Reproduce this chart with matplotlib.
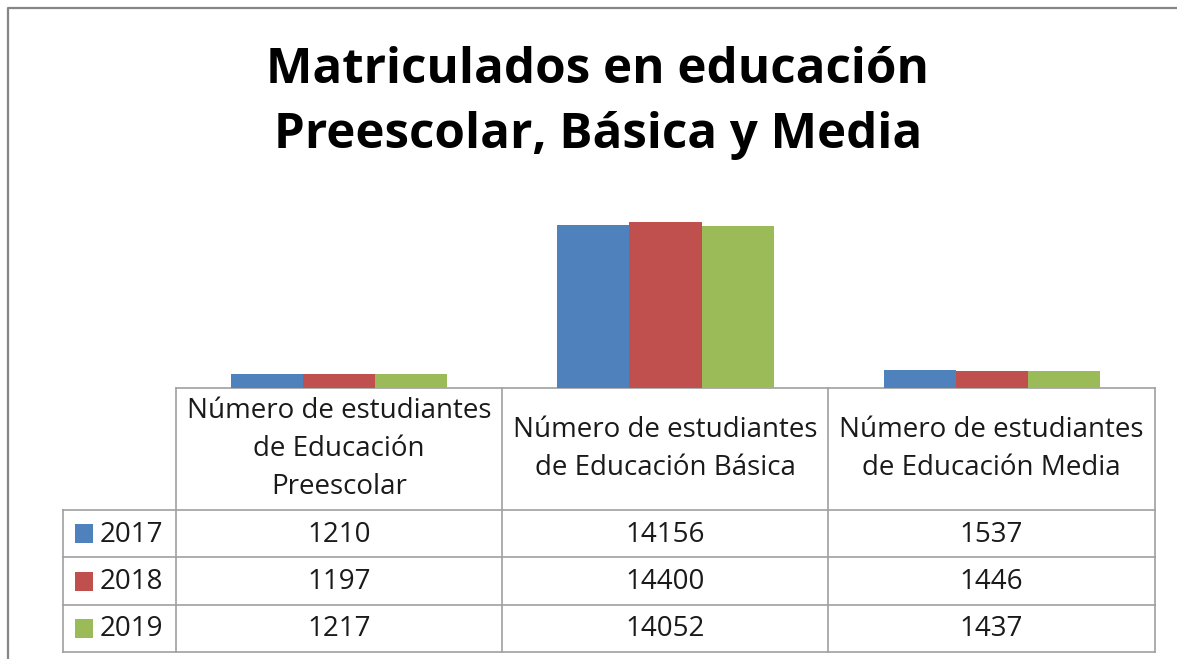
import matplotlib
matplotlib.use("Agg")
import matplotlib.pyplot as plt
import numpy as np

W, H = 1177, 659

title = "Matriculados en educación\nPreescolar, Básica y Media"
categories = [
    "Número de estudiantes\nde Educación\nPreescolar",
    "Número de estudiantes\nde Educación Básica",
    "Número de estudiantes\nde Educación Media",
]
years = ["2017", "2018", "2019"]
values = {
    "2017": [1210, 14156, 1537],
    "2018": [1197, 14400, 1446],
    "2019": [1217, 14052, 1437],
}
colors = {"2017": "#4F81BD", "2018": "#C0504D", "2019": "#9BBB59"}

FONT = "Open Sans"
grid_col = "#A0A0A0"

fig = plt.figure(figsize=(W / 100, H / 100), dpi=100)

# overlay axes in pixel coordinates for the frame and the data table
ov = fig.add_axes([0, 0, 1, 1])
ov.set_xlim(0, W)
ov.set_ylim(H, 0)
ov.axis("off")

# chart frame (left and top edges visible)
ov.plot([8, 8, W], [H, 8, 8], color="#868686", lw=1.6, solid_capstyle="butt")

ov.text(598, 103, title, ha="center", va="center", fontsize=35.5,
        fontweight="bold", family=FONT, linespacing=1.42, color="black")

# bar plot area
x0, x1 = 176, 1155
base = 388
ymax = 16000
px_per_unit = 166 / 14400
top = base - ymax * px_per_unit
ax = fig.add_axes([x0 / W, (H - base) / H, (x1 - x0) / W, (base - top) / H])
ax.set_xlim(-0.5, len(categories) - 0.5)
ax.set_ylim(0, ymax)
ax.axis("off")

bw = 0.221
x = np.arange(len(categories))
for i, yr in enumerate(years):
    ax.bar(x + (i - 1) * bw, values[yr], width=bw, color=colors[yr], linewidth=0)

# data table
col_x = [63, 176, 502, 828, 1155]
row_y = [388, 510, 557, 605, 652]
lw = 1.2
# horizontal lines
ov.plot([col_x[1], col_x[-1]], [row_y[0], row_y[0]], color=grid_col, lw=lw)
for yy in row_y[1:]:
    ov.plot([col_x[0], col_x[-1]], [yy, yy], color=grid_col, lw=lw)
# vertical lines
ov.plot([col_x[0], col_x[0]], [row_y[1], row_y[-1]], color=grid_col, lw=lw)
for xx in col_x[1:]:
    ov.plot([xx, xx], [row_y[0], row_y[-1]], color=grid_col, lw=lw)

txt_col = "#1a1a1a"
fs = 20
for j, cat in enumerate(categories):
    cx = (col_x[j + 1] + col_x[j + 2]) / 2
    cy = (row_y[0] + row_y[1]) / 2
    ov.text(cx, cy, cat, ha="center", va="center", fontsize=fs,
            family=FONT, linespacing=1.47, color=txt_col)

for i, yr in enumerate(years):
    cy = (row_y[i + 1] + row_y[i + 2]) / 2
    ov.add_patch(plt.Rectangle((75, cy - 9.5), 18, 19, color=colors[yr], lw=0))
    ov.text(100, cy + 1, yr, ha="left", va="center", fontsize=fs,
            family=FONT, color=txt_col)
    for j in range(len(categories)):
        cx = (col_x[j + 1] + col_x[j + 2]) / 2
        ov.text(cx, cy + 1, str(values[yr][j]), ha="center", va="center",
                fontsize=fs, family=FONT, color=txt_col)

fig.savefig("out.png", dpi=100)
